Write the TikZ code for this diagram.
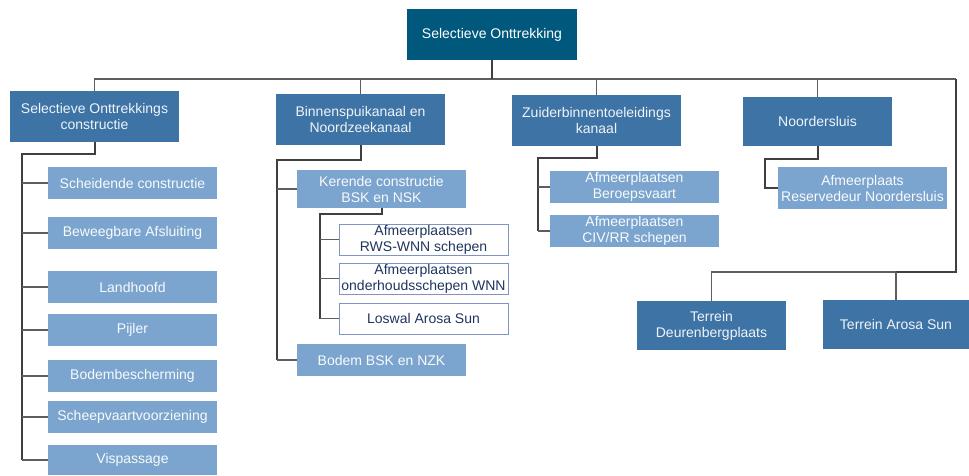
\documentclass[tikz,border=0pt]{standalone}
\usepackage{fontspec}
\setmainfont{Liberation Sans}
\definecolor{cdark}{HTML}{00587D}
\definecolor{cmid}{HTML}{3E73A6}
\definecolor{clight}{HTML}{7BA5CE}
\definecolor{cborder}{HTML}{7F93C6}
\definecolor{cnavy}{HTML}{1F3560}
\definecolor{ctrunk}{HTML}{404040}
\definecolor{cbranch}{HTML}{5E5E5E}
\begin{document}
\begin{tikzpicture}[x=1pt,y=-1pt,
  every node/.style={inner sep=0pt,align=center,font=\fontsize{14}{16}\selectfont},
  dk/.style={fill=cdark,text=white},
  md/.style={fill=cmid,text=white!92!cmid},
  lt/.style={fill=clight,text=white!95!clight},
  wb/.style={fill=white,draw=cborder,line width=1pt,text=cnavy},
  trunk/.style={draw=ctrunk,line width=2pt},
  branch/.style={draw=cbranch,line width=1.3pt}]
\useasboundingbox (0,0) rectangle (969,475);
% level 0 / 1
\node[dk,minimum width=170pt,minimum height=51pt] (top) at (492,34.5) {Selectieve Onttrekking};
\node[md,minimum width=169pt,minimum height=51pt] (soc) at (94.5,116.5) {Selectieve Onttrekkings\\constructie};
\node[md,minimum width=169pt,minimum height=51pt] (bsk) at (360.5,119.5) {Binnenspuikanaal en\\Noordzeekanaal};
\node[md,minimum width=169pt,minimum height=51pt] (zbk) at (596.5,120.5) {Zuiderbinnentoeleidings\\kanaal};
\node[md,minimum width=149pt,minimum height=49pt] (nds) at (817.5,121.5) {Noordersluis};
\node[md,minimum width=149pt,minimum height=49pt] (tdp) at (711.5,325.5) {Terrein\\Deurenbergplaats};
\node[md,minimum width=146pt,minimum height=49pt] (tas) at (896,324.5) {Terrein Arosa Sun};
% SOC children
\foreach \n/\y/\t in {sc/183/Scheidende constructie, ba/233/Beweegbare Afsluiting, lh/287/Landhoofd, pj/330/Pijler, bb/376/Bodembescherming, sv/417/Scheepvaartvoorziening}
  \node[lt,minimum width=169pt,minimum height=32pt] (\n) at (132.5,\y) {\t};
\node[lt,minimum width=169pt,minimum height=30pt] (vp) at (132.5,460) {Vispassage};
% Binnenspui children
\node[lt,minimum width=169pt,minimum height=38pt] (kc) at (381.5,189) {Kerende constructie\\BSK en NSK};
\node[lt,minimum width=169pt,minimum height=32pt] (bz) at (381.5,360) {Bodem BSK en NZK};
\node[wb,minimum width=169pt,minimum height=31pt] (w1) at (423.5,239.5) {Afmeerplaatsen\\RWS-WNN schepen};
\node[wb,minimum width=169pt,minimum height=31pt] (w2) at (423.5,278.5) {Afmeerplaatsen\\onderhoudsschepen WNN};
\node[wb,minimum width=169pt,minimum height=31pt] (w3) at (423.5,318.5) {Loswal Arosa Sun};
% Zuider children
\node[lt,minimum width=169pt,minimum height=32pt] (ab) at (634.5,187) {Afmeerplaatsen\\Beroepsvaart};
\node[lt,minimum width=169pt,minimum height=32pt] (civ) at (634.5,231) {Afmeerplaatsen\\CIV/RR schepen};
% Noordersluis child
\node[lt,minimum width=169pt,minimum height=42pt] (rn) at (862.5,188) {Afmeerplaats\\Reservedeur Noordersluis};
% coordinates
\coordinate (busy) at (0,79);
\coordinate (busR) at (956,79);
\coordinate (lowy) at (0,272);
\coordinate (socT) at (22,154);
\coordinate (bT) at (277,160);
\coordinate (kT) at (320,214);
\coordinate (zT) at (538,158);
\coordinate (nT) at (765,159);
% bus
\draw[branch] (soc.north) |- (busR);
\draw[trunk] (top.south) -- (top.south |- busy);
\foreach \n in {bsk,zbk,nds} \draw[branch] (\n.north) -- (\n.north |- busy);
\draw[trunk] (busR) -- (busR |- lowy) -- (tas.north |- lowy);
\draw[branch] (tas.north |- lowy) -| (tdp.north);
\draw[branch] (tas.north |- lowy) -- (tas.north);
% SOC
\draw[trunk] (soc.south) |- (socT) -- (socT |- vp.west);
\foreach \n in {sc,ba,lh,pj,bb,sv,vp} \draw[branch] (socT |- \n.west) -- (\n.west);
% BSK
\draw[trunk] (bsk.south) |- (bT) -- (bT |- bz.west);
\foreach \n in {kc,bz} \draw[branch] (bT |- \n.west) -- (\n.west);
\draw[trunk] (kc.south) |- (kT) -- (kT |- w3.west);
\foreach \n in {w1,w2,w3} \draw[branch] (kT |- \n.west) -- (\n.west);
% Zuider
\draw[trunk] (zbk.south) |- (zT) -- (zT |- civ.west);
\foreach \n in {ab,civ} \draw[branch] (zT |- \n.west) -- (\n.west);
% Noordersluis
\draw[trunk] (nds.south) |- (nT) |- (rn.west);
\end{tikzpicture}
\end{document}
